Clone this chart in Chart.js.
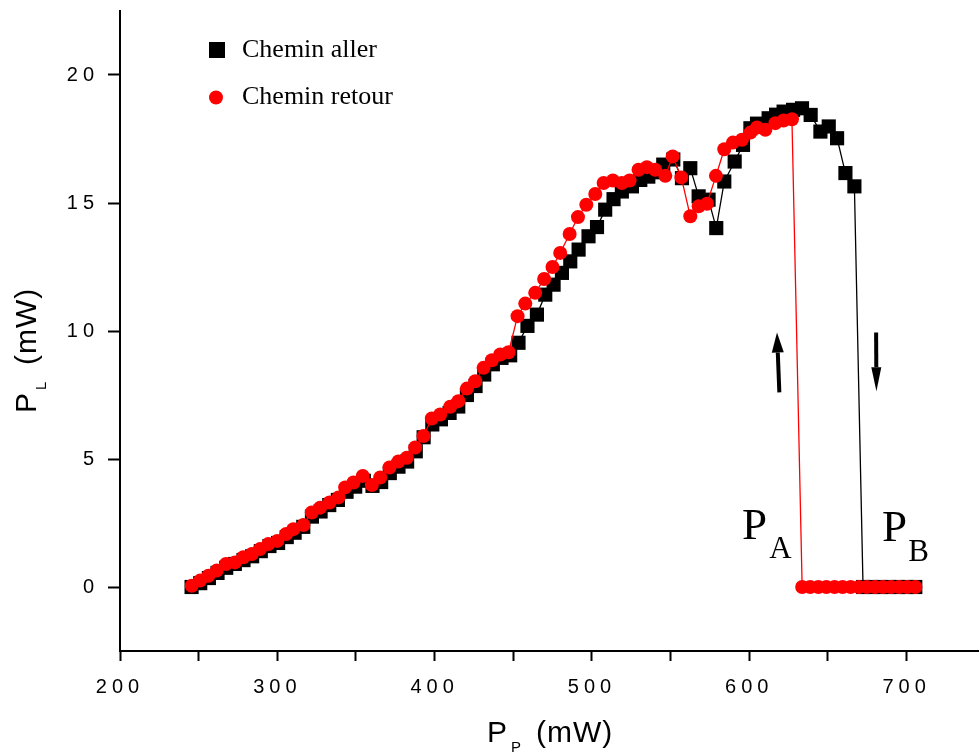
<!DOCTYPE html>
<html>
<head>
<meta charset="utf-8">
<title>Chemin aller / retour</title>
<script src="https://cdn.jsdelivr.net/npm/chart.js@4.4.1/dist/chart.umd.min.js"></script>
<style>
  html, body { margin: 0; padding: 0; background: #fff; }
  #wrap { width: 979px; height: 753px; position: relative; }
</style>
</head>
<body>
<div id="wrap"><canvas id="plChart"></canvas></div>
<script>
// pump power P_P (mW) -> laser power P_L (mW)
const allerX = [245.5, 251, 256.5, 262, 267.5, 273, 278.5, 284, 289.5, 295, 300.5, 306, 311, 316.5, 322, 327.5, 333, 338.5, 344, 349.5,
  355, 360.5, 366, 371.5, 377, 382.5, 388, 393, 398.5, 404, 409.5, 415, 420.5, 426, 431.5, 437, 442.5, 448,
  453.3, 459, 465, 470.3, 475.6, 480.9, 486.2, 491.5, 497.8, 503.2, 508.4, 513.7, 519, 525.4, 530.7, 535.8, 540.2, 545.3, 551.7,
  557.2, 562.5, 567.8, 574.1, 579, 584.1, 590.7, 596, 600.7, 604.9, 612.3, 617, 621.8, 627.8, 633.5, 639, 645.2, 650.5, 655.8,
  661.1, 666.8, 672.3, 677.8, 683.4, 689, 694.5, 700, 705.5];
const allerY = [0.0, 0.15, 0.35, 0.55, 0.75, 0.9, 1.05, 1.2, 1.4, 1.6, 1.72, 1.95, 2.12, 2.35, 2.75, 2.95, 3.2, 3.4, 3.72, 3.92,
  4.15, 3.95, 4.1, 4.45, 4.7, 4.9, 5.3, 5.85, 6.35, 6.55, 6.8, 7.05, 7.5, 7.85, 8.3, 8.7, 8.95, 9.05,
  9.54, 10.2, 10.64, 11.42, 11.81, 12.27, 12.72, 13.18, 13.7, 14.06, 14.74, 15.15, 15.45, 15.65, 15.9, 16.03, 16.2, 16.5, 16.7,
  15.97, 16.36, 15.26, 15.13, 14.02, 15.84, 16.62, 17.27, 17.92, 18.1, 18.31, 18.45, 18.57, 18.64, 18.7, 18.44, 17.79, 17.99, 17.53,
  16.17, 15.65, 0, 0, 0, 0, 0, 0, 0];

const retourX = [245.6, 250.9, 256.2, 261.5, 267.4, 273.1, 278.4, 283.8, 289, 294.3, 300, 305.6, 310.2, 316.6, 321.9, 327.2, 333.2, 338.9,
  343.1, 348.4, 354.3, 360.1, 365.4, 371.3, 377, 382.3, 387.6, 392.9, 398.2, 403.5, 409.9, 415.1, 420.5, 425.8, 431.1, 436.4,
  441.7, 447, 452.7, 457.6, 463.9, 469.6, 474.9, 479.8, 485.8, 491.1, 496.4, 502.1, 507.4, 513.3, 519, 523.9, 529.6, 534.9,
  540.2, 546.6, 551.3, 556.8, 562.5, 567.8, 573.1, 578.8, 584.1, 589.6, 595.3, 600.7, 604.9, 610.2, 616.6, 621.8, 627.1,
  633.6, 638.7, 643.9, 649, 654.2, 659.3, 664.4, 669.6, 674.7, 679.9, 685, 690.1, 695.3, 700.4, 705.6];
const retourY = [0.05, 0.25, 0.44, 0.64, 0.9, 0.96, 1.16, 1.29, 1.48, 1.68, 1.8, 2.07, 2.26, 2.42, 2.91, 3.1, 3.3, 3.5,
  3.89, 4.08, 4.34, 3.98, 4.28, 4.67, 4.9, 5.05, 5.45, 5.9, 6.58, 6.74, 7.04, 7.26, 7.75, 8.04, 8.56, 8.86,
  9.08, 9.17, 10.58, 11.07, 11.49, 12.03, 12.5, 13.05, 13.79, 14.45, 14.93, 15.35, 15.78, 15.88, 15.78, 15.88, 16.3, 16.4,
  16.3, 16.06, 16.82, 16.0, 14.48, 14.87, 14.97, 16.06, 17.1, 17.36, 17.47, 17.75, 17.95, 17.86, 18.12, 18.22, 18.27,
  0, 0, 0, 0, 0, 0, 0, 0, 0, 0, 0, 0, 0, 0, 0];

const xTicks = [200, 250, 300, 350, 400, 450, 500, 550, 600, 650, 700];
const yTicks = [0, 5, 10, 15, 20];

const allerPoints = allerX.map((x, i) => ({ x: x, y: allerY[i] }));
const retourPoints = retourX.map((x, i) => ({ x: x, y: retourY[i] }));

function drawArrow(ctx, x1, y1, x2, y2, headLen, headHalf, width) {
  const ang = Math.atan2(y2 - y1, x2 - x1);
  const bx = x2 - headLen * Math.cos(ang);
  const by = y2 - headLen * Math.sin(ang);
  ctx.lineWidth = width;
  ctx.beginPath();
  ctx.moveTo(x1, y1);
  ctx.lineTo(bx, by);
  ctx.stroke();
  ctx.beginPath();
  ctx.moveTo(x2, y2);
  ctx.lineTo(bx + headHalf * Math.sin(ang), by - headHalf * Math.cos(ang));
  ctx.lineTo(bx - headHalf * Math.sin(ang), by + headHalf * Math.cos(ang));
  ctx.closePath();
  ctx.fill();
}

const annotations = {
  id: "annotations",
  beforeDraw(chart) {
    chart.ctx.letterSpacing = "5px";
  },
  beforeDatasetsDraw(chart) {
    chart.ctx.letterSpacing = "0px";
  },
  afterDraw(chart) {
    const ctx = chart.ctx;
    const xs = chart.scales.x;
    const ys = chart.scales.y;
    const px = (v) => xs.getPixelForValue(v);
    const py = (v) => ys.getPixelForValue(v);
    ctx.save();
    ctx.letterSpacing = "0px";
    ctx.fillStyle = "#000";
    ctx.strokeStyle = "#000";
    ctx.textAlign = "left";
    ctx.textBaseline = "alphabetic";

    // legend
    ctx.fillRect(209, 42, 16, 16);
    ctx.fillStyle = "#ff0000";
    ctx.beginPath();
    ctx.arc(216, 97.5, 7, 0, Math.PI * 2);
    ctx.fill();
    ctx.fillStyle = "#000";
    ctx.font = '26px "Liberation Serif"';
    ctx.fillText("Chemin aller", 242, 57);
    ctx.fillText("Chemin retour", 242, 104);

    // P_A and P_B
    ctx.font = '45px "Liberation Serif"';
    ctx.fillText("P", px(595.4), py(1.87));
    ctx.fillText("P", px(684.4), py(1.8));
    ctx.font = '31px "Liberation Serif"';
    ctx.fillText("A", px(612.7), py(1.13));
    ctx.fillText("B", px(701.1), py(1.03));

    // direction arrows
    drawArrow(ctx, px(619.1), py(7.6), px(617.6), py(9.94), 20, 6, 4);
    drawArrow(ctx, px(680.6), py(9.94), px(680.8), py(7.65), 24, 5, 4);

    // axis titles with subscripts
    ctx.letterSpacing = "1px";
    ctx.font = '30px "Liberation Sans"';
    ctx.fillText("P", 487, 742);
    ctx.fillText("(mW)", 536, 742);
    ctx.font = '15px "Liberation Sans"';
    ctx.fillText("P", 511, 752);

    ctx.translate(36, 413);
    ctx.rotate(-Math.PI / 2);
    ctx.font = '30px "Liberation Sans"';
    ctx.fillText("P", 0, 0);
    ctx.fillText("(mW)", 48, 0);
    ctx.font = '15px "Liberation Sans"';
    ctx.fillText("L", 23, 10);
    ctx.restore();
  }
};

new Chart(document.getElementById("plChart"), {
  type: "scatter",
  data: {
    datasets: [
      {
        label: "Chemin aller",
        data: allerPoints,
        showLine: true,
        borderColor: "#000",
        borderWidth: 1.3,
        backgroundColor: "#000",
        pointStyle: "rect",
        pointRadius: 10,
        pointBorderWidth: 0,
        order: 1,
      },
      {
        label: "Chemin retour",
        data: retourPoints,
        showLine: true,
        borderColor: "#ff0000",
        borderWidth: 1.3,
        backgroundColor: "#ff0000",
        pointStyle: "circle",
        pointRadius: 7,
        pointBorderWidth: 0,
        order: 0,
      },
    ],
  },
  options: {
    responsive: true,
    maintainAspectRatio: false,
    animation: false,
    layout: { autoPadding: false, padding: { top: 11, right: 0, left: 0, bottom: 0 } },
    plugins: {
      legend: { display: false },
      tooltip: { enabled: false },
    },
    scales: {
      x: {
        type: "linear",
        min: 200,
        max: 746,
        afterBuildTicks: (scale) => { scale.ticks = xTicks.map((v) => ({ value: v })); },
        afterFit: (scale) => {
          scale.height = 102;
          scale.paddingLeft = 0;
          scale.paddingRight = 0;
        },
        ticks: {
          autoSkip: false,
          maxRotation: 0,
          padding: 14,
          color: "#000",
          font: { family: "Liberation Sans", size: 20 },
          callback: (v) => (v % 100 === 0 ? String(v) : ""),
        },
        grid: { drawOnChartArea: false, tickLength: 10, tickWidth: 2, color: "#000" },
        border: { color: "#000", width: 2 },
      },
      y: {
        type: "linear",
        min: -2.5,
        max: 22.5,
        afterBuildTicks: (scale) => { scale.ticks = yTicks.map((v) => ({ value: v })); },
        afterFit: (scale) => {
          scale.width = 120;
          scale.paddingTop = 0;
          scale.paddingBottom = 0;
        },
        ticks: {
          padding: 9,
          color: "#000",
          font: { family: "Liberation Sans", size: 20 },
        },
        grid: { drawOnChartArea: false, tickLength: 12, tickWidth: 2, color: "#000" },
        border: { color: "#000", width: 2 },
      },
    },
  },
  plugins: [annotations],
});
</script>
</body>
</html>
